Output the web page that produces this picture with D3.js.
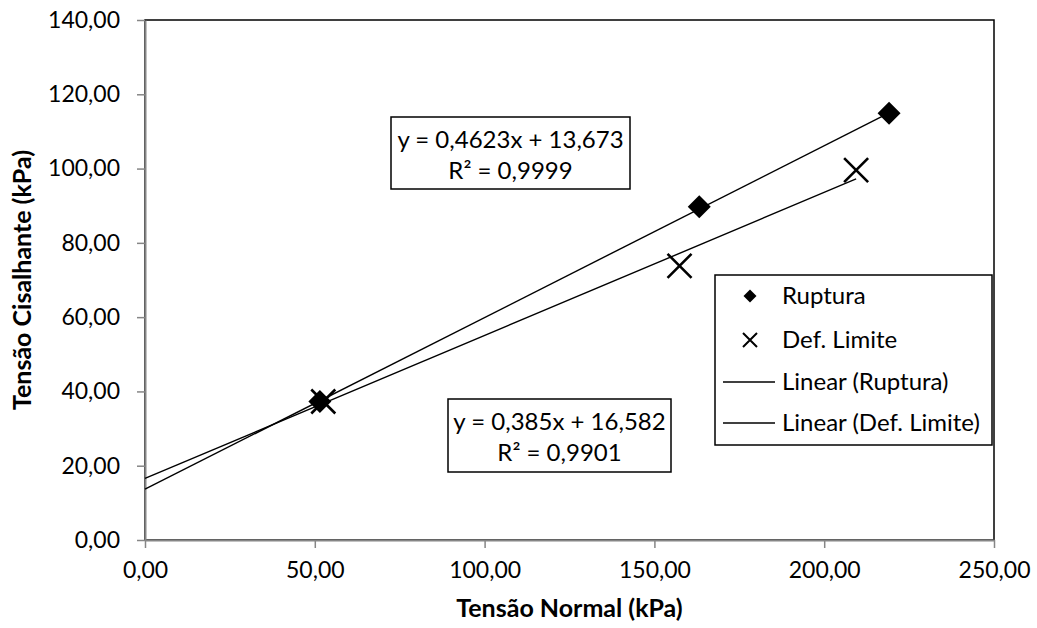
<!DOCTYPE html>
<html>
<head>
<meta charset="utf-8">
<script src="https://cdn.jsdelivr.net/npm/d3@7"></script>
<style>
  body { margin: 0; background: #fff; }
  text { font-family: Lato, "Open Sans", sans-serif; fill: #000; }
</style>
</head>
<body>
<script>
// dados
const ruptura = [[51.5, 37.3], [163.2, 89.7], [219.1, 114.9]];
const defLimite = [[52.5, 37.3], [157.4, 73.8], [209.4, 99.6]];
// linhas de tendência (coeficientes das etiquetas)
const trendRuptura = {a: 0.4623, b: 13.673, r2: "0,9999", label: "y = 0,4623x + 13,673"};
const trendDef = {a: 0.385, b: 16.582, r2: "0,9901", label: "y = 0,385x + 16,582"};
const xTicks = [0, 50, 100, 150, 200, 250];
const yTicks = [0, 20, 40, 60, 80, 100, 120, 140];
const legendItems = ["Ruptura", "Def. Limite", "Linear (Ruptura)", "Linear (Def. Limite)"];

const W = 1037, H = 628;
const m = {left: 145, top: 20, right: 1037 - 994, bottom: 628 - 540};
const fmt = d => d3.format(".2f")(d).replace(".", ",");

const svg = d3.select("body").append("svg")
  .attr("width", W).attr("height", H);

const x = d3.scaleLinear().domain([0, 250]).range([m.left, W - m.right]);
const y = d3.scaleLinear().domain([0, 140]).range([H - m.bottom, m.top]);

// borda da área de plotagem
svg.append("rect")
  .attr("x", x(0)).attr("y", y(140))
  .attr("width", x(250) - x(0)).attr("height", y(0) - y(140))
  .attr("fill", "none").attr("stroke", "#000").attr("stroke-width", 1.5);

// eixos
const xAxis = svg.append("g")
  .attr("transform", `translate(0,${y(0)})`)
  .call(d3.axisBottom(x).tickValues(xTicks).tickFormat(fmt).tickSizeInner(8).tickSizeOuter(0).tickPadding(14));
const yAxis = svg.append("g")
  .attr("transform", `translate(${x(0)},0)`)
  .call(d3.axisLeft(y).tickValues(yTicks).tickFormat(fmt).tickSizeInner(8).tickSizeOuter(0).tickPadding(17));
[xAxis, yAxis].forEach(g => {
  g.select(".domain").attr("stroke", "#868686").attr("stroke-width", 2);
  g.selectAll(".tick line").attr("stroke", "#868686").attr("stroke-width", 1.5);
  g.selectAll(".tick text").style("font-size", "23px").style("font-family", "Lato, sans-serif").attr("fill", "#000");
});

// títulos dos eixos
svg.append("text")
  .attr("x", (x(0) + x(250)) / 2).attr("y", 617)
  .attr("text-anchor", "middle")
  .style("font-size", "25px").style("font-weight", "bold")
  .text("Tensão Normal (kPa)");
svg.append("text")
  .attr("transform", `translate(31,${(y(0) + y(140)) / 2}) rotate(-90)`)
  .attr("text-anchor", "middle")
  .style("font-size", "25px").style("font-weight", "bold")
  .text("Tensão Cisalhante (kPa)");

// linhas de tendência
const line = d3.line().x(d => x(d[0])).y(d => y(d[1]));
function trend(t, data) {
  const xmax = d3.max(data, d => d[0]);
  svg.append("path")
    .datum([[0, t.b], [xmax, t.a * xmax + t.b]])
    .attr("d", line)
    .attr("fill", "none").attr("stroke", "#000").attr("stroke-width", 1.4);
}
trend(trendRuptura, ruptura);
trend(trendDef, defLimite);

// marcadores
const diamond = (g, s) => g.append("path")
  .attr("d", `M0,${-s}L${s},0L0,${s}L${-s},0Z`).attr("fill", "#000");
const cross = (g, s, w) => g.append("path")
  .attr("d", `M${-s},${-s}L${s},${s}M${-s},${s}L${s},${-s}`)
  .attr("stroke", "#000").attr("stroke-width", w).attr("fill", "none");

defLimite.forEach(d => cross(svg.append("g").attr("transform", `translate(${x(d[0])},${y(d[1])})`), 12, 2.6));
ruptura.forEach(d => diamond(svg.append("g").attr("transform", `translate(${x(d[0])},${y(d[1])})`), 11.5));

// caixas das equações
function eqBox(t, bx, by, bw, bh) {
  svg.append("rect").attr("x", bx).attr("y", by).attr("width", bw).attr("height", bh)
    .attr("fill", "#fff").attr("stroke", "#000").attr("stroke-width", 1.5);
  svg.append("text").attr("x", bx + bw / 2).attr("y", by + 31)
    .attr("text-anchor", "middle").style("font-size", "24px").text(t.label);
  svg.append("text").attr("x", bx + bw / 2).attr("y", by + 62)
    .attr("text-anchor", "middle").style("font-size", "24px").text("R² = " + t.r2);
}
eqBox(trendRuptura, 391, 117, 239, 72);
eqBox(trendDef, 448, 399, 223, 73);

// legenda
const lg = svg.append("g");
lg.append("rect").attr("x", 715).attr("y", 275).attr("width", 277).attr("height", 170)
  .attr("fill", "#fff").attr("stroke", "#000").attr("stroke-width", 1.5);
const ly = [296, 340, 382, 423];
legendItems.forEach((name, i) => {
  const g = lg.append("g").attr("transform", `translate(750,${ly[i]})`);
  if (i === 0) diamond(g, 6.5);
  else if (i === 1) cross(g, 7, 2);
  else g.append("line").attr("x1", -27).attr("x2", 25).attr("stroke", "#000").attr("stroke-width", 1.3);
  lg.append("text").attr("x", 782).attr("y", ly[i] + 8).style("font-size", "24px").text(name);
});
</script>
</body>
</html>
